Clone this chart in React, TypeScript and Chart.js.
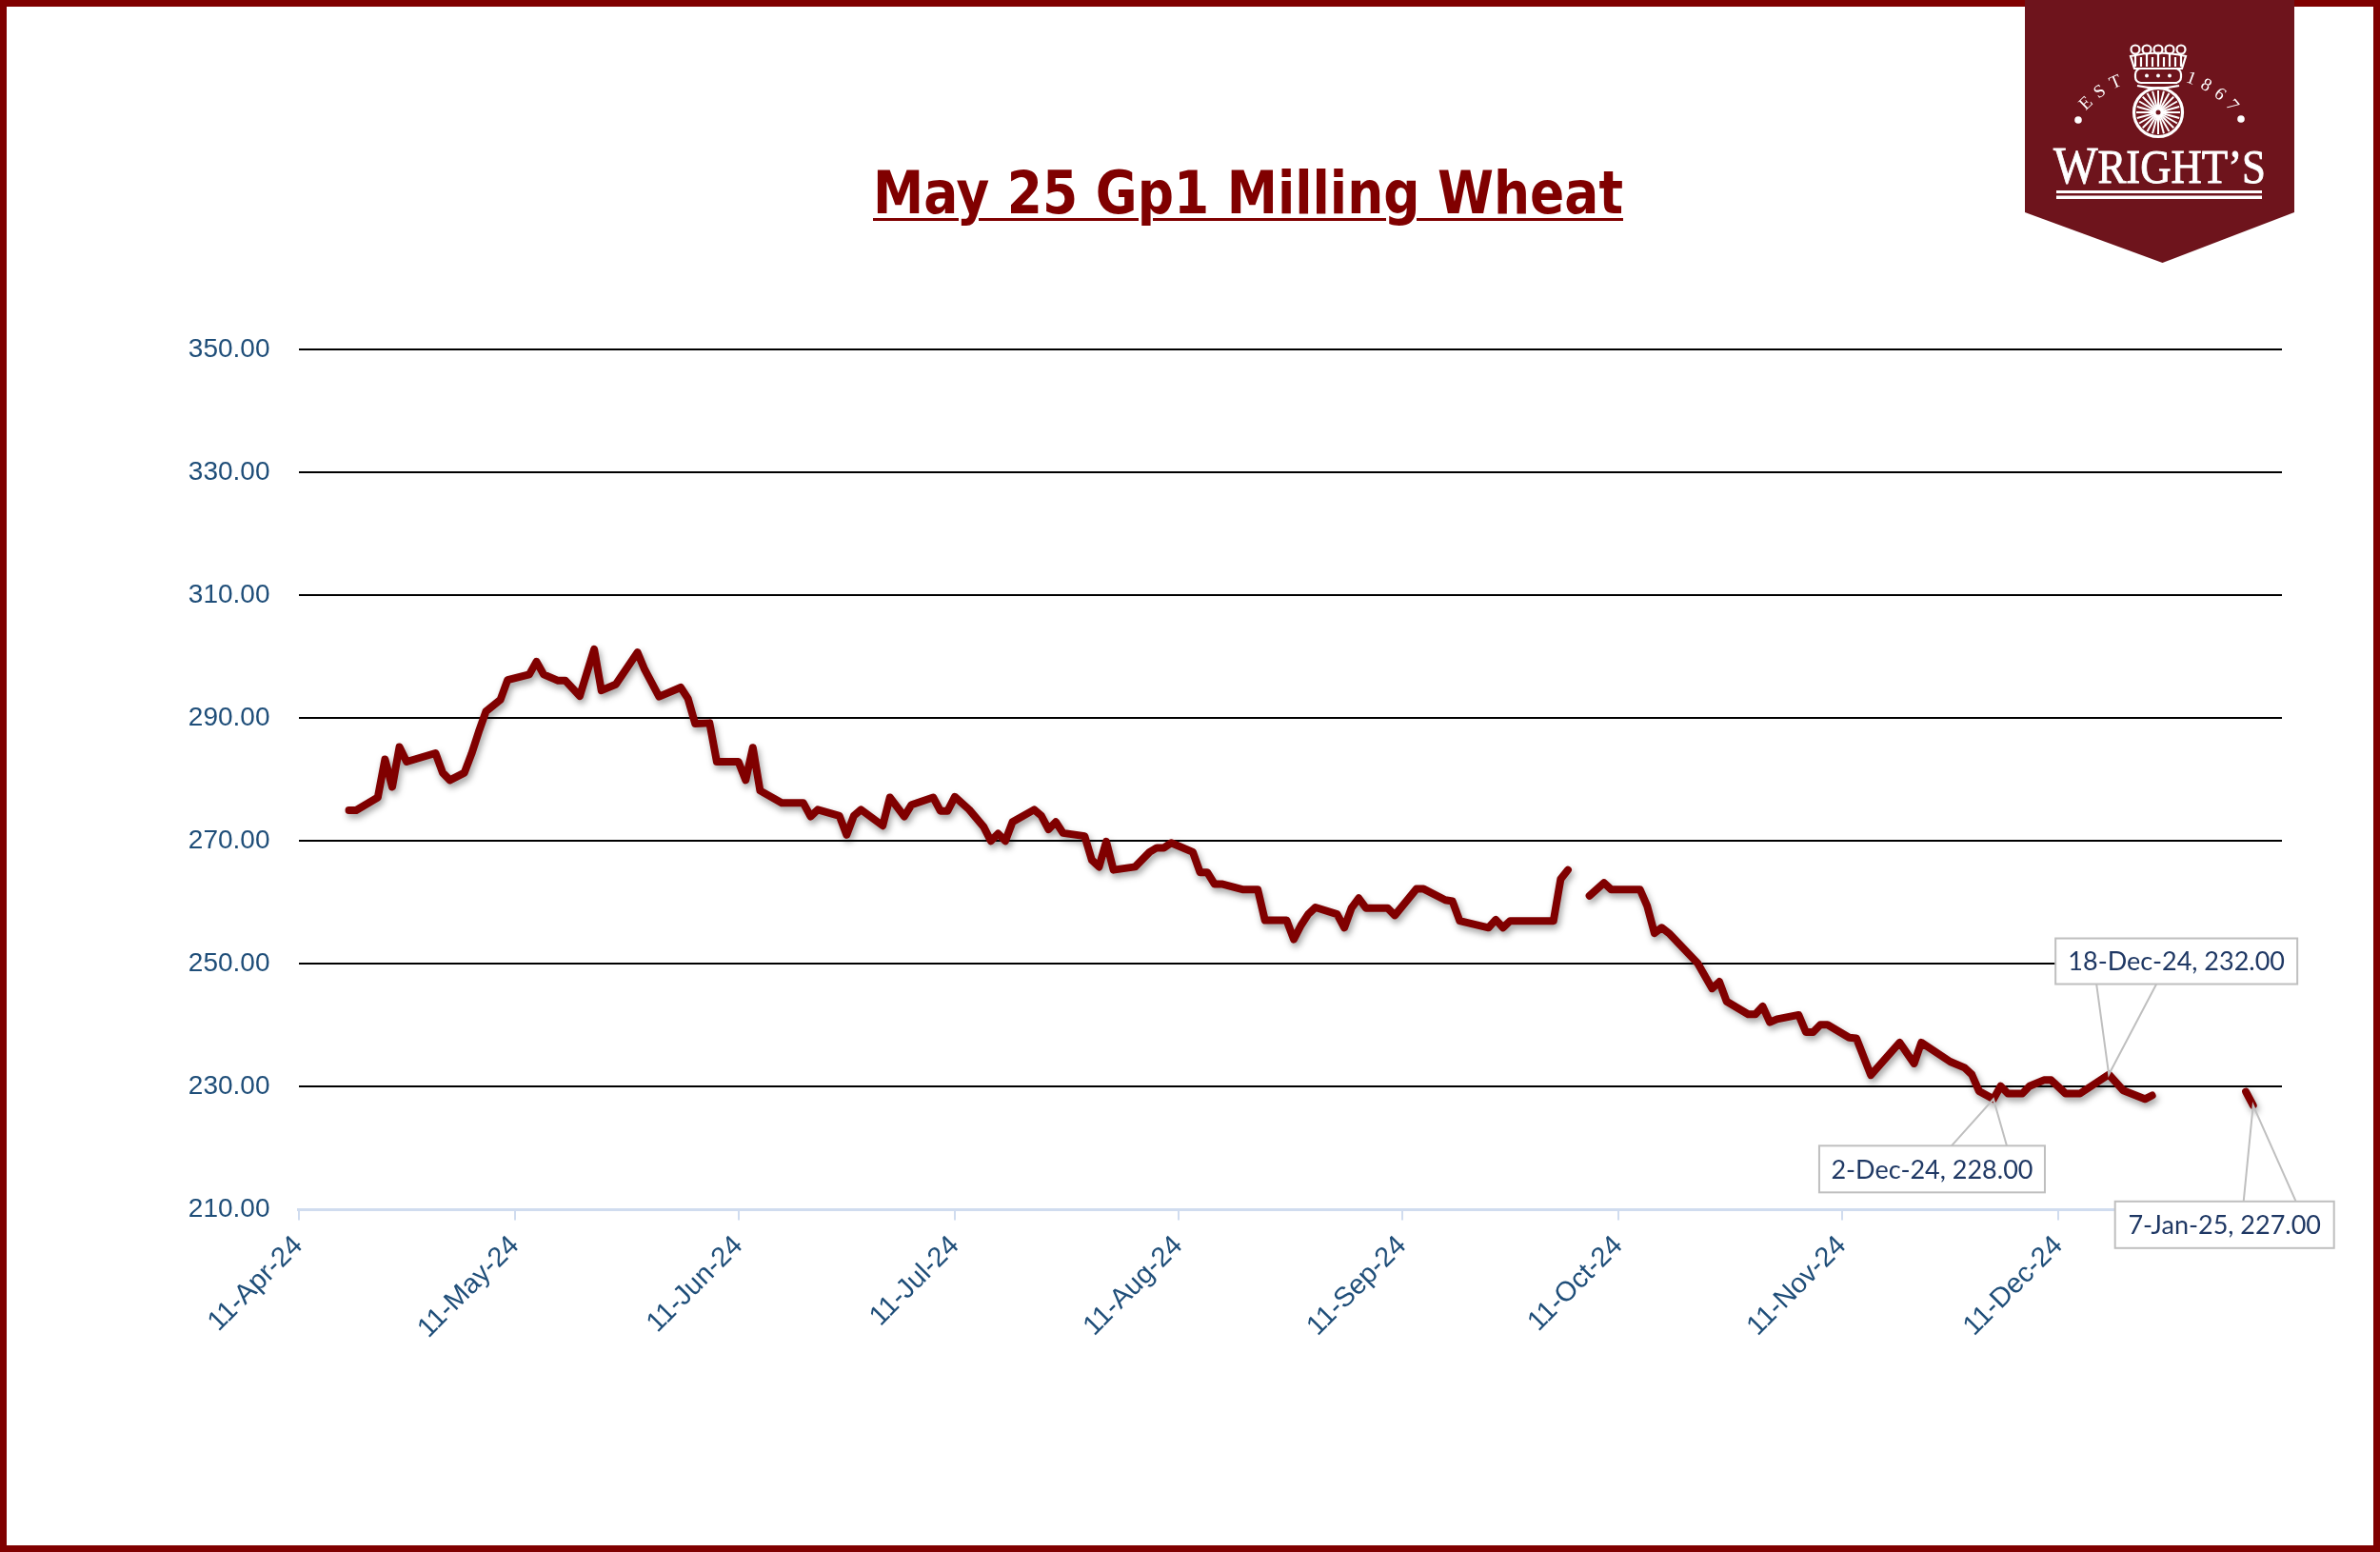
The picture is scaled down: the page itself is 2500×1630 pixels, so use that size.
import React, { useEffect, useRef } from "react";
import { Chart, registerables } from "chart.js";

Chart.register(...registerables);

// ---------- data ----------
const axisStart = "2024-04-11";
const axisEnd = "2025-01-11";
const tickDates = [
  "2024-04-11", "2024-05-11", "2024-06-11", "2024-07-11", "2024-08-11",
  "2024-09-11", "2024-10-11", "2024-11-11", "2024-12-11",
];
const yTickValues = [210, 230, 250, 270, 290, 310, 330, 350];

const priceDates = [
  "2024-04-18", "2024-04-19", "2024-04-22", "2024-04-23", "2024-04-24", "2024-04-25", "2024-04-26",
  "2024-04-30", "2024-05-01", "2024-05-02", "2024-05-04", "2024-05-05", "2024-05-06", "2024-05-07",
  "2024-05-09", "2024-05-10", "2024-05-13", "2024-05-14", "2024-05-15", "2024-05-17", "2024-05-18",
  "2024-05-20", "2024-05-22", "2024-05-23", "2024-05-25", "2024-05-28", "2024-05-29", "2024-05-31",
  "2024-06-03", "2024-06-04", "2024-06-05", "2024-06-07", "2024-06-08", "2024-06-11", "2024-06-12",
  "2024-06-13", "2024-06-14", "2024-06-17", "2024-06-20", "2024-06-21", "2024-06-22", "2024-06-25",
  "2024-06-26", "2024-06-27", "2024-06-28", "2024-07-01", "2024-07-02", "2024-07-04", "2024-07-05",
  "2024-07-08", "2024-07-09", "2024-07-10", "2024-07-11", "2024-07-13", "2024-07-15", "2024-07-16",
  "2024-07-17", "2024-07-18", "2024-07-19", "2024-07-22", "2024-07-23", "2024-07-24", "2024-07-25",
  "2024-07-26", "2024-07-29", "2024-07-30", "2024-07-31", "2024-08-01", "2024-08-02", "2024-08-05",
  "2024-08-07", "2024-08-08", "2024-08-09", "2024-08-10", "2024-08-13", "2024-08-14", "2024-08-15",
  "2024-08-16", "2024-08-17", "2024-08-20", "2024-08-22", "2024-08-23", "2024-08-26", "2024-08-27",
  "2024-08-28", "2024-08-29", "2024-08-30", "2024-09-02", "2024-09-03", "2024-09-04", "2024-09-05",
  "2024-09-06", "2024-09-09", "2024-09-10", "2024-09-13", "2024-09-14", "2024-09-17", "2024-09-18",
  "2024-09-19", "2024-09-23", "2024-09-24", "2024-09-25", "2024-09-26", "2024-10-02", "2024-10-03",
  "2024-10-04", "2024-10-05", "2024-10-07", "2024-10-09", "2024-10-10", "2024-10-14", "2024-10-15",
  "2024-10-16", "2024-10-17", "2024-10-18", "2024-10-22", "2024-10-24", "2024-10-25", "2024-10-26",
  "2024-10-29", "2024-10-30", "2024-10-31", "2024-11-01", "2024-11-02", "2024-11-05", "2024-11-06",
  "2024-11-07", "2024-11-08", "2024-11-09", "2024-11-12", "2024-11-13", "2024-11-15", "2024-11-19",
  "2024-11-21", "2024-11-22", "2024-11-26", "2024-11-28", "2024-11-29", "2024-11-30", "2024-12-02",
  "2024-12-03", "2024-12-04", "2024-12-06", "2024-12-07", "2024-12-09", "2024-12-10", "2024-12-12",
  "2024-12-14", "2024-12-18", "2024-12-20", "2024-12-23", "2024-12-24", "2024-12-25", "2025-01-06",
  "2025-01-07",
];
const priceValues: (number | null)[] = [
  275.0, 275.0, 277.1, 283.3, 278.8, 285.3, 282.9,
  284.3, 281.1, 279.9, 281.1, 284.2, 287.8, 291.1,
  293.0, 296.2, 297.1, 299.2, 297.1, 296.1, 296.1,
  293.6, 301.2, 294.5, 295.5, 300.7, 297.9, 293.5,
  295.0, 293.2, 289.1, 289.2, 282.9, 282.9, 279.9,
  285.2, 278.2, 276.2, 276.2, 274.0, 275.1, 274.1,
  271.0, 274.1, 275.1, 272.5, 277.1, 274.0, 275.9,
  277.1, 274.9, 274.9, 277.2, 275.1, 272.3, 270.0,
  271.2, 270.0, 273.1, 275.1, 274.1, 271.9, 273.1,
  271.3, 270.8, 266.9, 265.8, 269.9, 265.3, 265.8,
  268.2, 268.9, 268.9, 269.7, 268.2, 264.9, 264.9,
  263.0, 263.0, 262.1, 262.1, 257.1, 257.1, 254.0,
  256.3, 258.1, 259.2, 258.1, 255.9, 259.1, 260.7,
  259.1, 259.1, 257.9, 262.2, 262.2, 260.4, 260.2,
  257.0, 255.9, 257.2, 255.9, 257.0, 257.0, 263.8,
  265.3, null, 261.1, 263.2, 262.1, 262.1, 259.4,
  255.0, 255.9, 255.0, 250.1, 246.0, 247.1, 243.9,
  241.8, 241.8, 243.1, 240.5, 241.0, 241.7, 238.9,
  238.9, 240.1, 240.1, 238.0, 237.9, 231.9, 237.2,
  233.8, 237.2, 234.1, 233.1, 232.0, 229.3, 228.0,
  230.1, 228.9, 228.9, 230.1, 231.1, 231.1, 228.9,
  228.9, 232.0, 229.4, 228.0, 228.6, null, 229.2,
  227.0,
];

const calloutDates = ["2024-12-02", "2024-12-18", "2025-01-07"];

// callout box geometry relative to its data point (style, not data)
const calloutStyles = [
  { dx: -183, dy: 49, w: 237, h: 49, legA: -44, legB: 14, edge: "top" },
  { dx: -56, dy: -143, w: 254, h: 48, legA: -13, legB: 50, edge: "bottom" },
  { dx: -145, dy: 101, w: 230, h: 49, legA: -10, legB: 45, edge: "top" },
];

// ---------- helpers ----------
const MONTHS = ["Jan", "Feb", "Mar", "Apr", "May", "Jun", "Jul", "Aug", "Sep", "Oct", "Nov", "Dec"];
const DAY_MS = 86400000;
const toUTC = (s: string) => {
  const [y, m, d] = s.split("-").map(Number);
  return Date.UTC(y, m - 1, d);
};
const originMs = toUTC(axisStart);
const dayOf = (s: string) => Math.round((toUTC(s) - originMs) / DAY_MS);
const fmtDay = (day: number) => {
  const dt = new Date(originMs + Math.round(day) * DAY_MS);
  return `${dt.getUTCDate()}-${MONTHS[dt.getUTCMonth()]}-${String(dt.getUTCFullYear()).slice(2)}`;
};

const AXIS_BLUE = "#1F4E79";
const LINE_RED = "#800000";
const LOGO_RED = "#6E141C";

const shadowPlugin = {
  id: "lineShadow",
  beforeDatasetDraw(chart: any) {
    const c = chart.ctx;
    c.save();
    c.shadowColor = "rgba(0,0,0,0.38)";
    c.shadowBlur = 7;
    c.shadowOffsetX = 2;
    c.shadowOffsetY = 4;
  },
  afterDatasetDraw(chart: any) {
    chart.ctx.restore();
  },
};

const calloutPlugin = {
  id: "callouts",
  afterDatasetsDraw(chart: any) {
    const c = chart.ctx;
    const xs = chart.scales.x;
    const ys = chart.scales.y;
    calloutDates.forEach((d, i) => {
      const idx = priceDates.indexOf(d);
      const v = priceValues[idx];
      if (idx < 0 || v == null) return;
      const st = calloutStyles[i];
      const px = xs.getPixelForValue(dayOf(d));
      const py = ys.getPixelForValue(v);
      const left = px + st.dx;
      const top = py + st.dy;
      const edgeY = st.edge === "top" ? top : top + st.h;
      c.save();
      c.strokeStyle = "#BFBFBF";
      c.lineWidth = 2;
      c.beginPath();
      c.moveTo(px + st.legA, edgeY);
      c.lineTo(px, py);
      c.lineTo(px + st.legB, edgeY);
      c.stroke();
      c.fillStyle = "#FFFFFF";
      c.fillRect(left, top, st.w, st.h);
      c.strokeRect(left, top, st.w, st.h);
      c.fillStyle = "#1F3864";
      c.font = "27px Lato, 'Open Sans', sans-serif";
      c.textAlign = "center";
      c.textBaseline = "middle";
      c.fillText(`${fmtDay(dayOf(d))}, ${v.toFixed(2)}`, left + st.w / 2, top + st.h / 2 + 1);
      c.restore();
    });
  },
};

function Logo() {
  const spokes = Array.from({ length: 24 }, (_, i) => (i * 360) / 24);
  const serif = "'Liberation Serif', 'DejaVu Serif', serif";
  return (
    <svg
      width={284}
      height={278}
      viewBox="0 0 284 278"
      style={{ position: "absolute", left: 2127, top: 0 }}
    >
      <path d="M0,0 H283 V223 L144.5,276 L0,223 Z" fill={LOGO_RED} />
      {/* crown */}
      <g stroke="#FFFFFF" fill="none" strokeWidth={2.2}>
        {[116, 128, 140, 152, 164].map((x) => (
          <circle key={x} cx={x} cy={52} r={4.5} />
        ))}
        {[116, 128, 140, 152, 164].map((x) => (
          <line key={"l" + x} x1={x} y1={56.5} x2={x} y2={70} />
        ))}
        {[122, 134, 146, 158].map((x) => (
          <line key={"m" + x} x1={x} y1={60} x2={x} y2={70} />
        ))}
        <path d="M111,59 Q140,52 169,59 L165,72 L115,72 Z" />
        <rect x={116} y={72} width={48} height={15} rx={6} />
        <path d="M118,90 Q140,95 162,90" />
      </g>
      {[128, 140, 152].map((x) => (
        <circle key={"d" + x} cx={x} cy={79.5} r={2} fill="#FFFFFF" />
      ))}
      {/* wheel */}
      <circle cx={140} cy={118} r={25.5} stroke="#FFFFFF" strokeWidth={3.2} fill="none" />
      <g stroke="#FFFFFF" strokeWidth={2}>
        {spokes.map((a) => {
          const r = (a * Math.PI) / 180;
          return (
            <line
              key={a}
              x1={140 + 6 * Math.cos(r)}
              y1={118 + 6 * Math.sin(r)}
              x2={140 + 23 * Math.cos(r)}
              y2={118 + 23 * Math.sin(r)}
            />
          );
        })}
      </g>
      <circle cx={140} cy={118} r={6.5} fill="#FFFFFF" />
      <circle cx={140} cy={118} r={2.5} fill={LOGO_RED} />
      {/* EST 1867 arc */}
      <defs>
        <path id="logoArc" d="M53.4,132 A100,100 0 0 1 226.6,132" />
      </defs>
      <text fill="#FFFFFF" fontFamily={serif} fontSize={19} letterSpacing={7}>
        <textPath href="#logoArc" startOffset="46" textAnchor="middle">EST</textPath>
      </text>
      <text fill="#FFFFFF" fontFamily={serif} fontSize={19} letterSpacing={7}>
        <textPath href="#logoArc" startOffset="166" textAnchor="middle">1867</textPath>
      </text>
      <circle cx={56} cy={126} r={3.8} fill="#FFFFFF" />
      <circle cx={227} cy={125} r={3.8} fill="#FFFFFF" />
      {/* name */}
      <text
        x={30}
        y={192}
        fill="#FFFFFF"
        stroke="#FFFFFF"
        strokeWidth={0.9}
        fontFamily={serif}
        textLength={223}
        lengthAdjust="spacingAndGlyphs"
      >
        <tspan fontSize={55}>W</tspan>
        <tspan fontSize={50}>RIGHT’S</tspan>
      </text>
      <rect x={33} y={200} width={216} height={3} fill="#FFFFFF" />
      <rect x={33} y={205.5} width={216} height={3.5} fill="#FFFFFF" />
    </svg>
  );
}

export default function App() {
  const canvasRef = useRef<HTMLCanvasElement | null>(null);
  const titleRef = useRef<HTMLSpanElement | null>(null);

  useEffect(() => {
    document.body.style.margin = "0";
    if (titleRef.current) {
      const w = titleRef.current.getBoundingClientRect().width;
      if (w > 0) titleRef.current.style.transform = `translateX(-50%) scaleX(${788 / w})`;
    }
    const canvas = canvasRef.current;
    if (!canvas) return;
    const chart = new Chart(canvas, {
      type: "line",
      data: {
        datasets: [
          {
            label: "May 25 Gp1 Milling Wheat",
            data: priceDates.map((d, i) => ({ x: dayOf(d), y: priceValues[i] })) as any,
            borderColor: LINE_RED,
            backgroundColor: LINE_RED,
            borderWidth: 8,
            pointRadius: 0,
            pointHoverRadius: 0,
            tension: 0,
            spanGaps: false,
            borderJoinStyle: "round",
            borderCapStyle: "round",
          },
        ],
      },
      options: {
        animation: false,
        responsive: false,
        devicePixelRatio: 1,
        events: [],
        layout: { padding: { top: 367, right: 103, bottom: 0, left: 0 } },
        plugins: {
          legend: { display: false },
          tooltip: { enabled: false },
          title: { display: false },
        },
        scales: {
          x: {
            type: "linear",
            min: dayOf(axisStart),
            max: dayOf(axisEnd),
            afterBuildTicks: (scale: any) => {
              scale.ticks = tickDates.map((d) => ({ value: dayOf(d) }));
            },
            afterFit: (scale: any) => {
              scale.height = 359.5;
            },
            grid: {
              drawOnChartArea: false,
              drawTicks: true,
              tickLength: 11,
              color: "#D0DCEF",
              lineWidth: 2,
            },
            border: { display: true, color: "#D0DCEF", width: 3 },
            ticks: {
              autoSkip: false,
              maxRotation: 45,
              minRotation: 45,
              padding: 10,
              color: AXIS_BLUE,
              font: { family: "'Liberation Sans', Arial, sans-serif", size: 29 },
              callback: (v: any) => fmtDay(Number(v)),
            },
          },
          y: {
            type: "linear",
            min: yTickValues[0],
            max: yTickValues[yTickValues.length - 1],
            afterBuildTicks: (scale: any) => {
              scale.ticks = yTickValues.map((v) => ({ value: v }));
            },
            afterFit: (scale: any) => {
              scale.width = 313.5;
            },
            grid: {
              drawTicks: false,
              lineWidth: 2,
              color: (ctx: any) => (ctx.tick && ctx.tick.value === yTickValues[0] ? "rgba(0,0,0,0)" : "#000000"),
            },
            border: { display: false },
            ticks: {
              padding: 30,
              color: AXIS_BLUE,
              font: { family: "'Liberation Sans', Arial, sans-serif", size: 28 },
              callback: (v: any) => Number(v).toFixed(2),
            },
          },
        },
      },
      plugins: [shadowPlugin, calloutPlugin],
    });
    return () => chart.destroy();
  }, []);

  return (
    <div style={{ position: "relative", width: 2500, height: 1630, background: "#FFFFFF", overflow: "hidden" }}>
      <canvas
        ref={canvasRef}
        width={2500}
        height={1630}
        style={{ position: "absolute", left: 0, top: 0, width: 2500, height: 1630 }}
      />
      <div
        style={{
          position: "absolute",
          inset: 0,
          border: "7px solid #800000",
          boxSizing: "border-box",
          pointerEvents: "none",
        }}
      />
      <span
        ref={titleRef}
        style={{
          position: "absolute",
          left: 1311,
          top: 172,
          whiteSpace: "nowrap",
          transform: "translateX(-50%)",
          transformOrigin: "50% 0",
          fontFamily: "'DejaVu Sans Condensed', 'DejaVu Sans', sans-serif",
          fontStretch: "condensed",
          fontWeight: "bold",
          fontSize: 62,
          lineHeight: "62px",
          color: "#800000",
          textDecoration: "underline",
          textDecorationThickness: "3px",
          textUnderlineOffset: "5px",
        }}
      >
        May 25 Gp1 Milling Wheat
      </span>
      <Logo />
    </div>
  );
}
